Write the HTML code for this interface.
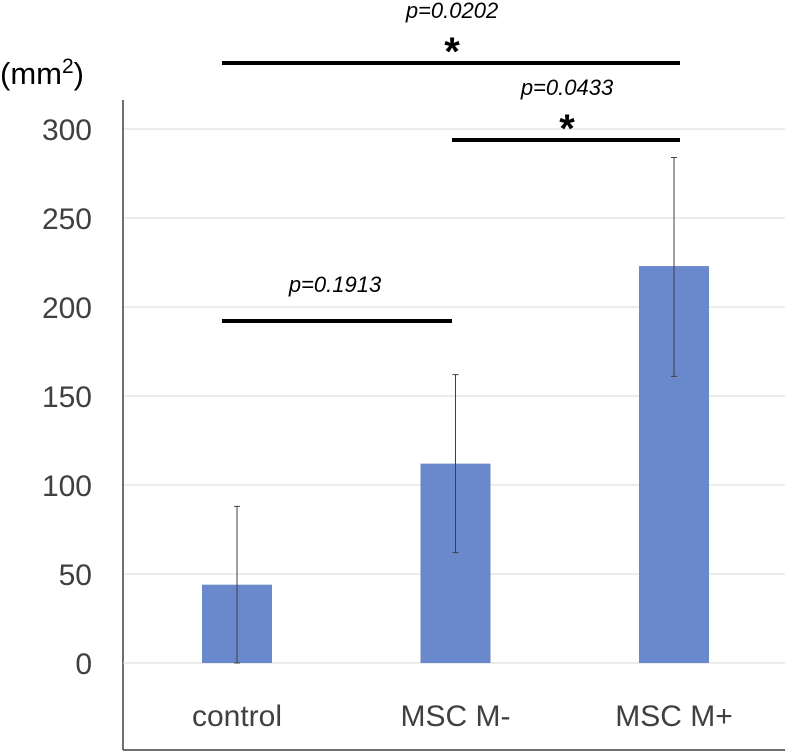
<!DOCTYPE html>
<html><head><meta charset="utf-8"><style>
body{margin:0;background:#fff;}
svg{display:block;font-family:"Liberation Sans",sans-serif;}
</style></head><body>
<svg id="chart" width="787" height="755"></svg>
<script>
const categories=["control","MSC M-","MSC M+"];
const values=[44,112,223];
const errUpper=[88,162,284];
const errLower=[0,62,161];
const ticks=[0,50,100,150,200,250,300];
const sigLabels=["p=0.0202","p=0.0433","p=0.1913"];
const NS="http://www.w3.org/2000/svg";
const svg=document.getElementById("chart");
const y=v=>663-v*(534/300);
const xc=i=>237+i*218.5;
function mk(t,a,txt){const e=document.createElementNS(NS,t);for(const k in a)e.setAttribute(k,a[k]);if(txt!==undefined)e.textContent=txt;svg.appendChild(e);return e;}
ticks.forEach(t=>{
 if(t>0){const g=mk("line",{x1:123,x2:785,y1:y(t),y2:y(t),stroke:"#d9d9d9","stroke-width":1});
 
 }
 const l=mk("text",{x:92,y:y(t)+11,"text-anchor":"end","font-size":30,fill:"#404040"},t);
 
 
});
const ax=mk("line",{x1:123,x2:123,y1:100,y2:750,stroke:"#404040","stroke-width":1.5});


const bx=mk("line",{x1:123,x2:785,y1:750,y2:750,stroke:"#404040","stroke-width":1.5});


const base=mk("line",{x1:123,x2:785,y1:663,y2:663,stroke:"#d9d9d9","stroke-width":1});


const unit=mk("text",{x:0,y:84,"font-size":31,fill:"#000"});
unit.innerHTML='(mm<tspan dy="-11" font-size="21">2</tspan><tspan dy="11">)</tspan>';


categories.forEach((c,i)=>{
 const b=mk("rect",{x:xc(i)-35,y:y(values[i]),width:70,height:y(0)-y(values[i]),fill:"#6a89cc"});
 
 
 const e=mk("path",{d:`M${xc(i)},${y(errUpper[i])}V${y(errLower[i])}M${xc(i)-3},${y(errUpper[i])}h6M${xc(i)-3},${y(errLower[i])}h6`,stroke:"#404040","stroke-width":1,fill:"none"});
 
 
 const l=mk("text",{x:xc(i),y:726,"text-anchor":"middle","font-size":30,fill:"#404040"},c);
 
 
});
const sig=[[222,680,63,true,452],[452,680,140,true,567],[222,452,321,false,335]];
sig.forEach((s,k)=>{
 const ln=mk("line",{x1:s[0],x2:s[1],y1:s[2],y2:s[2],stroke:"#000","stroke-width":4});
 
 
 const mx=s[4];
 const ty=s[3]?s[2]-45:s[2]-29;
 const p=mk("text",{x:mx,y:ty,"text-anchor":"middle","font-size":22,"font-style":"italic",fill:"#000"},sigLabels[k]);
 
 
 if(s[3]){const st=mk("text",{x:mx,y:s[2]+2,"text-anchor":"middle","font-size":40,"font-weight":"bold",fill:"#000"},"*");
 
 }
});
</script>
</body></html>
